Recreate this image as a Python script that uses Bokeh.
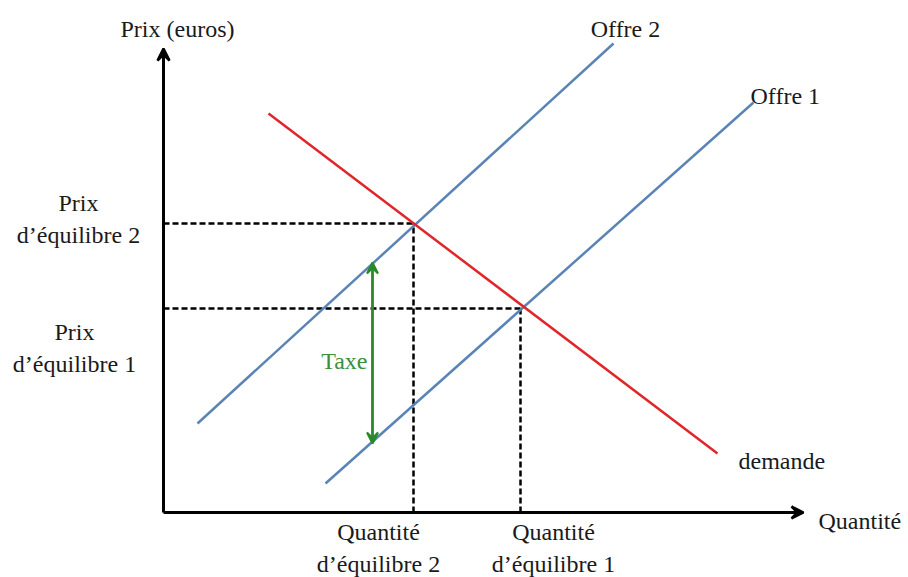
from bokeh.plotting import figure
from bokeh.models import Arrow, VeeHead, ColumnDataSource, Range1d
from bokeh.core.properties import value
from bokeh.embed import file_html
from bokeh.resources import INLINE

# --- data (abstract units: quantity on x, price on y) ---
demand_x = [10.5, 55.4]
demand_y = [39.9, 5.9]
offre2_x = [3.4, 45.0]
offre2_y = [8.9, 46.9]
offre1_x = [16.2, 59.0]
offre1_y = [2.9, 41.0]

eq_q = [25.0, 35.7]      # quantité d'équilibre 2, 1
eq_p = [28.9, 20.4]      # prix d'équilibre 2, 1

taxe_x = 20.9
taxe_y = [6.9, 25.0]

axis_x_end = 64.0
axis_y_end = 46.4

label_text = ["Prix (euros)", "Offre 2", "Prix\nd’équilibre 2", "Prix\nd’équilibre 1",
              "Quantité\nd’équilibre 2", "Quantité\nd’équilibre 1"]
label_x = [1.4, 46.2, -8.5, -8.9, 21.5, 39.0]
label_y = [48.4, 48.4, 29.35, 16.45, -3.55, -3.55]

left_text = ["Offre 1", "demande", "Quantité"]
left_x = [58.7, 57.5, 65.5]
left_y = [41.7, 5.2, -0.8]

FONT = value("Liberation Serif")
FS = "24px"

p = figure(width=908, height=577, output_backend="svg", toolbar_location=None,
           x_range=Range1d(-16.3, 74.5), y_range=Range1d(-6.5, 51.2),
           min_border=0)
p.xaxis.visible = False
p.yaxis.visible = False
p.xgrid.visible = False
p.ygrid.visible = False
p.outline_line_color = None
p.background_fill_color = "white"

# dashed guide lines
for q, pr in zip(eq_q, eq_p):
    p.line([0, q], [pr, pr], line_color="black", line_width=2.5, line_dash="6 3")
    p.line([q, q], [0, pr], line_color="black", line_width=2.5, line_dash="6 3")

# curves
p.line(offre2_x, offre2_y, line_color="#5a84b5", line_width=2.5)
p.line(offre1_x, offre1_y, line_color="#5a84b5", line_width=2.5)
p.line(demand_x, demand_y, line_color="#e0262b", line_width=2.5)

# axes with arrows
p.add_layout(Arrow(x_start=0, y_start=0, x_end=axis_x_end, y_end=0,
                   line_color="black", line_width=3,
                   end=VeeHead(size=12, line_color="black", fill_color="black", line_width=2.5)))
p.add_layout(Arrow(x_start=0, y_start=0, x_end=0, y_end=axis_y_end,
                   line_color="black", line_width=3,
                   end=VeeHead(size=12, line_color="black", fill_color="black", line_width=2.5)))

# tax arrow
p.add_layout(Arrow(x_start=taxe_x, y_start=taxe_y[0], x_end=taxe_x, y_end=taxe_y[1],
                   line_color="#2a8a2a", line_width=2.8,
                   start=VeeHead(size=11, line_color="#2a8a2a", fill_color="#2a8a2a", line_width=2),
                   end=VeeHead(size=11, line_color="#2a8a2a", fill_color="#2a8a2a", line_width=2)))

# texts
src_c = ColumnDataSource(dict(x=label_x, y=label_y, t=label_text))
p.text("x", "y", text="t", source=src_c, text_font=FONT, text_font_size=FS,
       text_align="center", text_baseline="middle", text_color="#1a1a1a",
       text_line_height=1.2)
src_l = ColumnDataSource(dict(x=left_x, y=left_y, t=left_text))
p.text("x", "y", text="t", source=src_l, text_font=FONT, text_font_size=FS,
       text_align="left", text_baseline="middle", text_color="#1a1a1a")
p.text([20.4], [15.2], text=["Taxe"], text_font=FONT, text_font_size=FS,
       text_align="right", text_baseline="middle", text_color="#3a8f3a")

open("out.html", "w").write(file_html(p, INLINE))
